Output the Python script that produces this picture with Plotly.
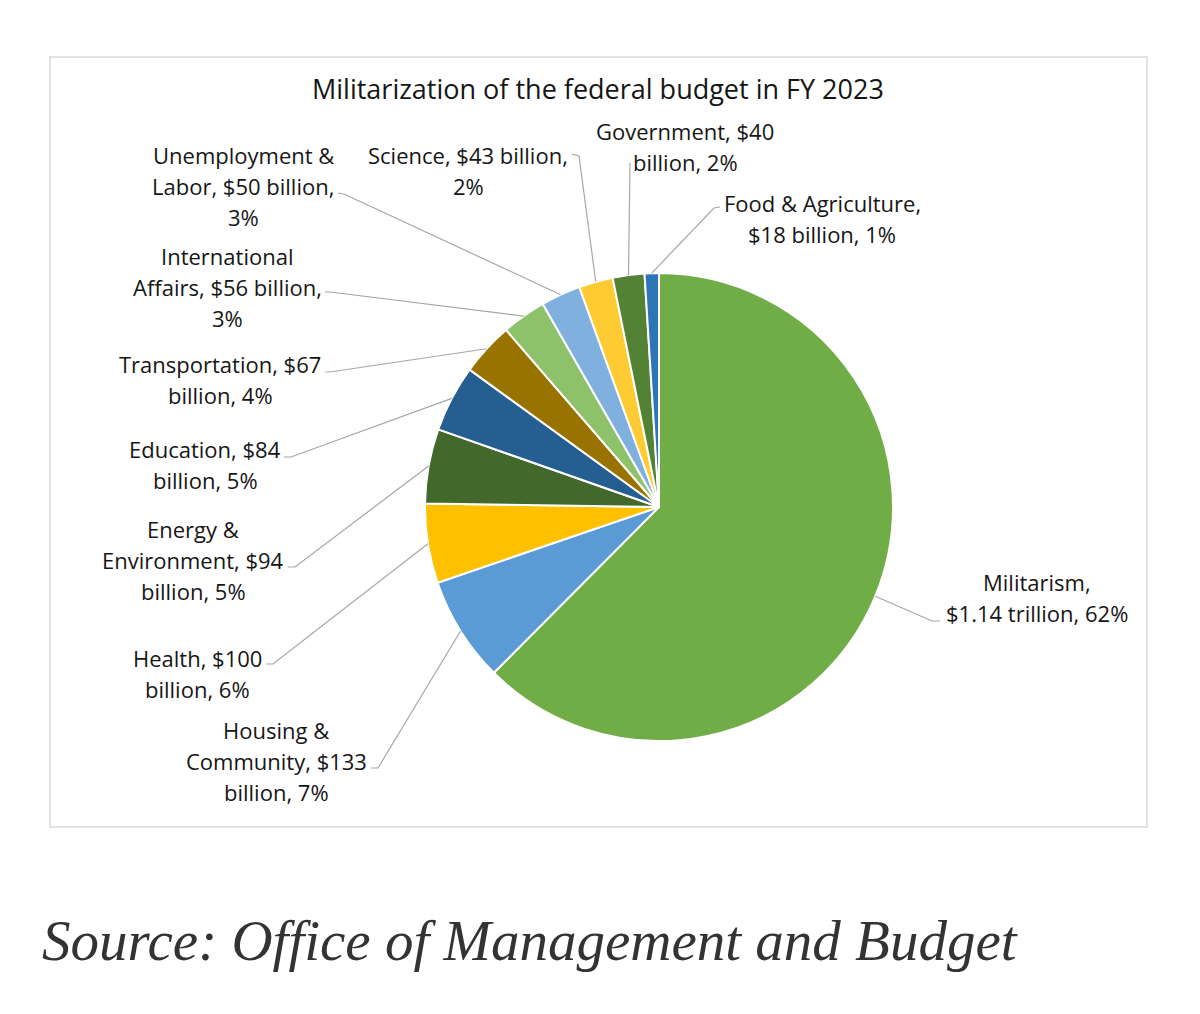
import math
import plotly.graph_objects as go

# ---------------- data ----------------
categories = ["Militarism", "Housing & Community", "Health", "Energy & Environment",
              "Education", "Transportation", "International Affairs",
              "Unemployment & Labor", "Science", "Government", "Food & Agriculture"]
values = [1140, 133, 100, 94, 84, 67, 56, 50, 43, 40, 18]  # $ billion
label_lines = [
    ["Militarism,", "$1.14 trillion, 62%"],
    ["Housing &", "Community, $133", "billion, 7%"],
    ["Health, $100", "billion, 6%"],
    ["Energy &", "Environment, $94", "billion, 5%"],
    ["Education, $84", "billion, 5%"],
    ["Transportation, $67", "billion, 4%"],
    ["International", "Affairs, $56 billion,", "3%"],
    ["Unemployment &", "Labor, $50 billion,", "3%"],
    ["Science, $43 billion,", "2%"],
    ["Government, $40", "billion, 2%"],
    ["Food & Agriculture,", "$18 billion, 1%"],
]
title_text = "Militarization of the federal budget in FY 2023"
source_text = "Source: Office of Management and Budget"

# ---------------- style / layout ----------------
colors = ["#70AD47", "#5B9BD5", "#FFC000", "#43682B", "#255E91", "#997300",
          "#8DC26A", "#7FB0DE", "#FFCB33", "#548235", "#2E75B6"]
OFF = 8                      # page body margin
W, H = 1200 - OFF, 1014 - OFF
CX, CY, R = 659, 507, 234
LINE_H = 31
FONT = "Open Sans"
# label block centre x, first-line y (page pixels)
label_pos = [(1037, 582), (276, 730), (197, 658), (193, 529), (205, 449), (220, 364),
             (227, 256), (243, 155), (468, 155), (685, 131), (822, 203)]
# leader anchor (page pixels) and tick end
leader_anchor = [((940, 621), (932, 621)), ((371, 768), (378, 768)), ((266, 664), (273, 664)),
                 ((288, 567), (295, 567)), ((284, 457), (291, 457)), ((325, 372), (330, 372)),
                 ((325, 292), (330, 292)), ((338, 193), (344, 194)), ((572, 154), (579, 156)),
                 ((630, 163), (630, 165)), ((720, 207), (714, 208))]


def px(x):
    return (x - OFF) / W


def py(y):
    return 1 - (y - OFF) / H


fig = go.Figure(go.Pie(
    labels=categories, values=values, sort=False, direction="clockwise", rotation=0,
    marker=dict(colors=colors, line=dict(color="white", width=2)),
    textinfo="none", hoverinfo="label+value+percent", showlegend=False,
    domain=dict(x=[px(CX - R), px(CX + R)], y=[py(CY + R), py(CY - R)]),
))

annotations = []
shapes = []

# chart frame
shapes.append(dict(type="rect", xref="paper", yref="paper",
                   x0=px(50), x1=px(1147), y0=py(827), y1=py(57),
                   line=dict(color="#D9D9D9", width=1.5), fillcolor="rgba(0,0,0,0)", layer="below"))

total = sum(values)
cum = 0
for i, v in enumerate(values):
    mid = (cum + v / 2) / total * 2 * math.pi
    cum += v
    ex = CX + R * math.sin(mid)
    ey = CY - R * math.cos(mid)
    (ax, ay), (tx, ty) = leader_anchor[i]
    path = f"M {px(ax)},{py(ay)} L {px(tx)},{py(ty)} L {px(ex)},{py(ey)}"
    shapes.append(dict(type="path", xref="paper", yref="paper", path=path,
                       line=dict(color="#A6A6A6", width=1.2)))
    lx, ly = label_pos[i]
    for j, line in enumerate(label_lines[i]):
        annotations.append(dict(text=line, x=px(lx), y=py(ly + j * LINE_H), xref="paper", yref="paper",
                                xanchor="center", yanchor="middle", showarrow=False,
                                font=dict(family=FONT, size=22, color="#161616")))

annotations.append(dict(text=title_text, x=px(598), y=py(89), xref="paper", yref="paper",
                        xanchor="center", yanchor="middle", showarrow=False,
                        font=dict(family=FONT, size=27, color="#161616")))
annotations.append(dict(text=f"<i>{source_text}</i>", x=px(40), y=py(940), xref="paper", yref="paper",
                        xanchor="left", yanchor="middle", showarrow=False,
                        font=dict(family="Liberation Serif", size=57, color="#333333")))

fig.update_layout(width=W, height=H, margin=dict(l=0, r=0, t=0, b=0),
                  paper_bgcolor="white", plot_bgcolor="white",
                  annotations=annotations, shapes=shapes)

fig.write_html("out.html")
